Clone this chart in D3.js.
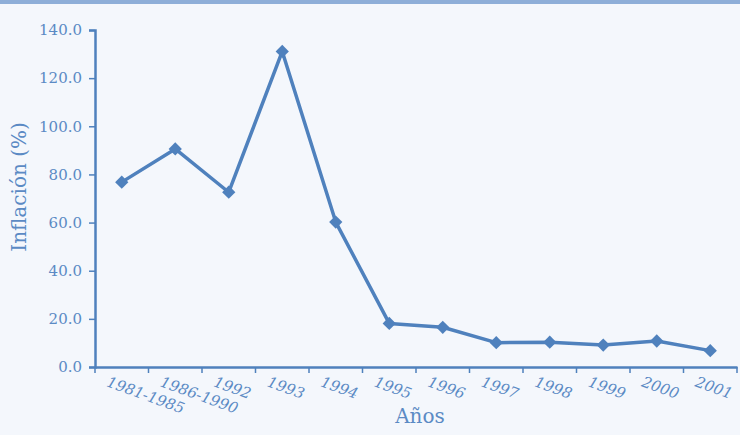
<!DOCTYPE html>
<html>
<head>
<meta charset="utf-8">
<script src="https://cdn.jsdelivr.net/npm/d3@7"></script>
<style>
  html, body { margin: 0; padding: 0; background: #f4f7fc; }
  svg { display: block; }
  text { font-family: "DejaVu Serif", serif; fill: #5b8ac4; }
</style>
</head>
<body>
<svg id="chart" width="740" height="435"></svg>
<script>
// Inflation by period
const categories = ["1981-1985", "1986-1990", "1992", "1993", "1994", "1995", "1996", "1997", "1998", "1999", "2000", "2001"];
const inflation = [76.8, 90.6, 72.6, 131.1, 60.2, 18.1, 16.5, 10.1, 10.3, 9.1, 10.8, 6.8];
const yTicks = [0, 20, 40, 60, 80, 100, 120, 140];

const svg = d3.select("#chart");
const W = 740, H = 435;
const plotLeft = 95, plotRight = 737, plotTop = 30, plotBottom = 367;
const lineColor = "#4f81bd";

svg.append("rect").attr("width", W).attr("height", H).attr("fill", "#f4f7fc");
svg.append("rect").attr("width", W).attr("height", 4).attr("fill", "#8eaed8");

const x = d3.scaleBand().domain(categories).range([plotLeft, plotRight]).padding(0);
const y = d3.scaleLinear().domain([0, 140]).range([plotBottom, plotTop]);

// Y axis
const yAxis = svg.append("g")
  .attr("transform", `translate(${plotLeft},0)`)
  .call(d3.axisLeft(y).tickValues(yTicks).tickFormat(d3.format(".1f")).tickSize(6).tickPadding(7));
yAxis.select(".domain").attr("stroke", lineColor).attr("stroke-width", 2.5);
yAxis.selectAll(".tick line").attr("stroke", lineColor).attr("stroke-width", 1.5);
yAxis.selectAll(".tick text").attr("font-size", 15).attr("font-family", "DejaVu Serif").attr("fill", "#5b8ac4");

// X axis with tick marks at band edges
const xAxis = svg.append("g")
  .attr("transform", `translate(0,${plotBottom})`)
  .call(d3.axisBottom(x).tickSize(0).tickFormat(""));
xAxis.select(".domain").attr("stroke", lineColor).attr("stroke-width", 2.5);
xAxis.selectAll(".tick").remove();

const edges = categories.map(c => x(c)).concat([x(categories[categories.length - 1]) + x.bandwidth()]);
xAxis.selectAll("line.edge").data(edges).enter().append("line")
  .attr("class", "edge")
  .attr("x1", d => d).attr("x2", d => d)
  .attr("y1", 0).attr("y2", 6)
  .attr("stroke", lineColor).attr("stroke-width", 1.5);

xAxis.selectAll("text.cat").data(categories).enter().append("text")
  .attr("class", "cat")
  .attr("transform", d => `translate(${x(d) + x.bandwidth() / 2 - 16},${19}) rotate(20)`)
  .attr("text-anchor", "start")
  .attr("font-style", "italic")
  .attr("font-size", 15)
  .text(d => d);

// Axis titles
svg.append("text")
  .attr("transform", `translate(26,187) rotate(-90)`)
  .attr("text-anchor", "middle")
  .attr("font-size", 20)
  .text("Inflación (%)");

svg.append("text")
  .attr("x", 420).attr("y", 423)
  .attr("text-anchor", "middle")
  .attr("font-size", 20)
  .text("Años");

// Series line and markers
const pts = categories.map((c, i) => ({ c, v: inflation[i] }));
const line = d3.line().x(d => x(d.c) + x.bandwidth() / 2).y(d => y(d.v));

svg.append("path")
  .datum(pts)
  .attr("d", line)
  .attr("fill", "none")
  .attr("stroke", lineColor)
  .attr("stroke-width", 3.5)
  .attr("stroke-linejoin", "round");

svg.selectAll("path.marker").data(pts).enter().append("path")
  .attr("class", "marker")
  .attr("d", d3.symbol().type(d3.symbolDiamond2).size(112))
  .attr("transform", d => `translate(${x(d.c) + x.bandwidth() / 2},${y(d.v)})`)
  .attr("fill", lineColor);
</script>
</body>
</html>
